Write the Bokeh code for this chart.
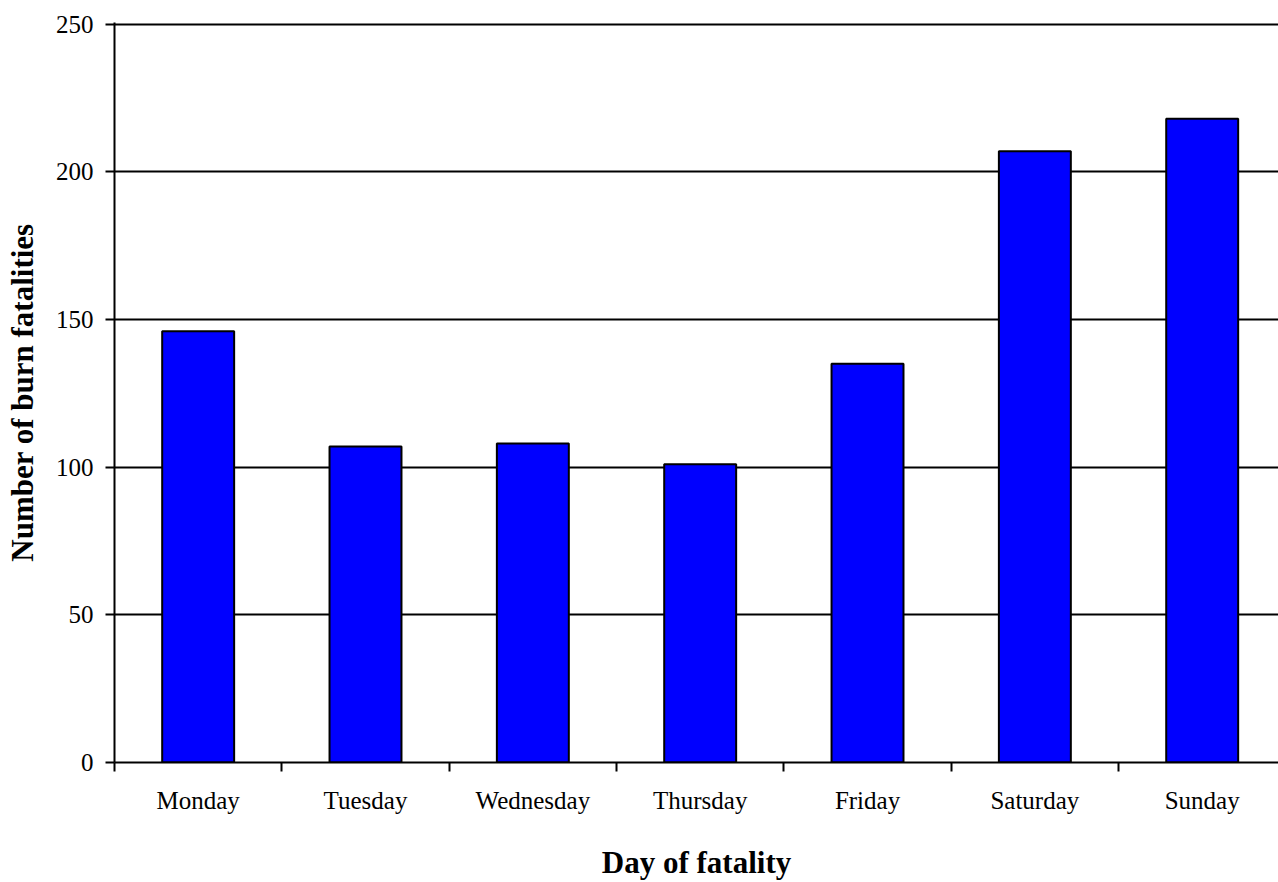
from bokeh.plotting import figure
from bokeh.models import Range1d, FixedTicker, ColumnDataSource
from bokeh.embed import file_html
from bokeh.resources import INLINE

days = ["Monday", "Tuesday", "Wednesday", "Thursday", "Friday", "Saturday", "Sunday"]
fatalities = [146, 107, 108, 101, 135, 207, 218]
y_ticks = [0, 50, 100, 150, 200, 250]

centers = [i + 0.5 for i in range(len(days))]
boundaries = list(range(len(days) + 1))

src = ColumnDataSource(dict(x=centers, top=fatalities, day=days))

p = figure(width=1278, height=882, output_backend="svg", toolbar_location=None,
           x_range=Range1d(0, 6.956), y_range=Range1d(0, 250.6),
           min_border_left=114, min_border_right=0, min_border_top=22, min_border_bottom=119)
p.outline_line_color = None
p.background_fill_color = "white"
p.border_fill_color = "white"

p.vbar(x="x", top="top", bottom=0, width=0.43, source=src,
       fill_color="#0000FF", line_color="black", line_width=2)

FONT = "Liberation Serif"

# x axis
xa = p.xaxis[0]
xa.ticker = FixedTicker(ticks=centers, minor_ticks=boundaries)
xa.major_label_overrides = {c: d for c, d in zip(centers, days)}
xa.major_tick_out = 0
xa.major_tick_in = 0
xa.minor_tick_out = 9
xa.minor_tick_in = 0
xa.minor_tick_line_color = "black"
xa.minor_tick_line_width = 2
xa.axis_line_color = "black"
xa.axis_line_width = 2
xa.major_label_text_font = FONT
xa.major_label_text_font_size = "25px"
xa.major_label_text_color = "black"
xa.major_label_standoff = 15
xa.axis_label = "Day of fatality"
xa.axis_label_text_font = FONT
xa.axis_label_text_font_size = "31px"
xa.axis_label_text_font_style = "bold"
xa.axis_label_text_color = "black"
xa.axis_label_standoff = 28

# y axis
ya = p.yaxis[0]
ya.ticker = FixedTicker(ticks=y_ticks)
ya.major_tick_out = 9
ya.major_tick_in = 0
ya.minor_tick_out = 0
ya.minor_tick_in = 0
ya.major_tick_line_width = 2
ya.major_tick_line_color = "black"
ya.axis_line_color = "black"
ya.axis_line_width = 2
ya.major_label_text_font = FONT
ya.major_label_text_font_size = "25px"
ya.major_label_text_color = "black"
ya.major_label_standoff = 12
ya.axis_label = "Number of burn fatalities"
ya.axis_label_text_font = FONT
ya.axis_label_text_font_size = "31px"
ya.axis_label_text_font_style = "bold"
ya.axis_label_text_color = "black"
ya.axis_label_standoff = 13

p.xgrid.grid_line_color = None
p.ygrid.ticker = FixedTicker(ticks=y_ticks)
p.ygrid.grid_line_color = "black"
p.ygrid.grid_line_width = 2

open("out.html", "w").write(file_html(p, INLINE))
